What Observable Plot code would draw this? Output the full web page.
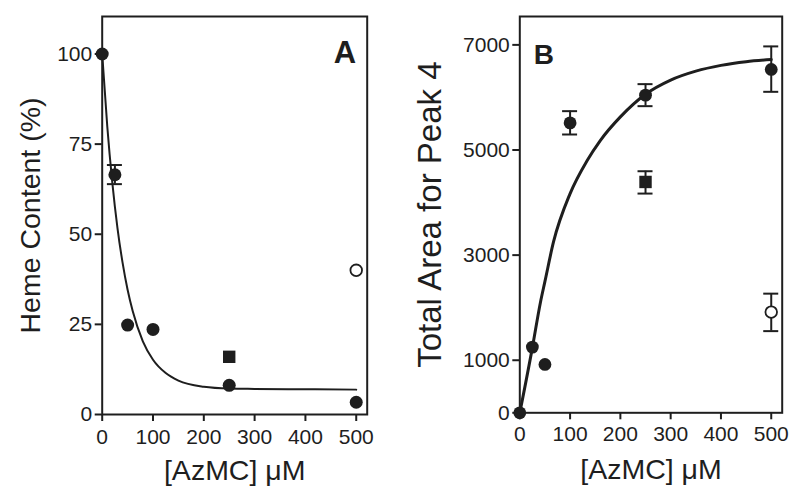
<!DOCTYPE html>
<html>
<head>
<meta charset="utf-8">
<script src="https://cdn.jsdelivr.net/npm/d3@7"></script>
<script src="https://cdn.jsdelivr.net/npm/@observablehq/plot@0.6"></script>
<style>
  html, body { margin: 0; padding: 0; background: white; }
  #chart { display: flex; width: 800px; height: 498px; background: white; }
  #chart svg { display: block; }
  #chart svg g[aria-label="x-axis tick label"],
  #chart svg g[aria-label="y-axis tick label"] { font-size: 21px; }
</style>
</head>
<body>
<div id="chart"></div>
<script>
// ---------- shared ----------
const xTicks = [0, 100, 200, 300, 400, 500];
const xTitle = "[AzMC] \u03BCM";

// ---------- Panel A: Heme content ----------
const hemeTicks = [0, 25, 50, 75, 100];
const hemeX = [0, 25, 50, 100, 250, 500];
const hemeY = [100, 66.5, 24.8, 23.6, 8.1, 3.4];
const hemeErrX = [25];
const hemeErrLo = [63.9];
const hemeErrHi = [69.2];
const hemeSquareX = [250];
const hemeSquareY = [16];
const hemeOpenX = [500];
const hemeOpenY = [40];
const hemeFitX = [0, 10, 20, 30, 40, 50, 60, 80, 100, 125, 150, 200, 250, 300, 400, 500];
const hemeFitY = [100, 79.9, 64.2, 51.8, 42.2, 34.6, 28.7, 20.3, 15.2, 11.5, 9.4, 7.7, 7.2, 7.1, 7.0, 6.9];

// ---------- Panel B: Total area for peak 4 ----------
const peakTicks = [0, 1000, 3000, 5000, 7000];
const peakX = [0, 25, 50, 100, 250, 500];
const peakY = [0, 1250, 920, 5516, 6044, 6533];
const peakErrX = [100, 250, 500];
const peakErrLo = [5295, 5834, 6107];
const peakErrHi = [5739, 6253, 6971];
const peakSquareX = [250];
const peakSquareY = [4392];
const peakSquareLo = [4171];
const peakSquareHi = [4596];
const peakOpenX = [500];
const peakOpenY = [1916];
const peakOpenLo = [1554];
const peakOpenHi = [2267];
const peakFitX = [0, 25, 41, 50, 67, 100, 134, 160, 200, 250, 300, 350, 400, 450, 500];
const peakFitY = [0, 1240, 2100, 2500, 3250, 4170, 4800, 5180, 5630, 6060, 6330, 6500, 6610, 6680, 6720];

const zip = (xs, ys) => xs.map((x, i) => ({x, y: ys[i]}));
const zipErr = (xs, lo, hi) => xs.map((x, i) => ({x, lo: lo[i], hi: hi[i]}));
const ink = "#1e1e1e";
const font = "'Liberation Sans', Arial, Helvetica, sans-serif";
const plain = d => String(d);

function panel(o) {
  const innerW = o.width - o.marginLeft - o.marginRight;
  const capHalf = 7.5 * (o.xDomain[1] - o.xDomain[0]) / innerW; // 7.5 px in data units
  const errs = o.errors;
  return Plot.plot({
    width: o.width,
    height: 498,
    marginLeft: o.marginLeft,
    marginRight: o.marginRight,
    marginTop: o.marginTop,
    marginBottom: o.marginBottom,
    x: {domain: o.xDomain},
    y: {domain: o.yDomain},
    style: {fontFamily: font, fontSize: "21px", color: ink, background: "white", overflow: "visible"},
    marks: [
      Plot.axisY(o.yTicks, {tickSize: 7, tickPadding: 3, fontSize: 21, strokeWidth: 2, label: null, tickFormat: plain, fill: ink, stroke: ink}),
      Plot.axisX(xTicks, {tickSize: 7, tickPadding: o.xPad, fontSize: 21, strokeWidth: 2, label: null, tickFormat: plain, fill: ink, stroke: ink}),
      Plot.frame({stroke: ink, strokeWidth: 2}),
      Plot.line(o.fit, {x: "x", y: "y", curve: "monotone-x", stroke: ink, strokeWidth: o.fitWidth}),
      Plot.ruleX(errs, {x: "x", y1: "lo", y2: "hi", stroke: ink, strokeWidth: 2}),
      Plot.ruleY(errs, {y: "lo", x1: d => d.x - capHalf, x2: d => d.x + capHalf, stroke: ink, strokeWidth: 2}),
      Plot.ruleY(errs, {y: "hi", x1: d => d.x - capHalf, x2: d => d.x + capHalf, stroke: ink, strokeWidth: 2}),
      Plot.dot(o.points, {x: "x", y: "y", r: o.r, fill: ink, stroke: "none"}),
      Plot.dot(o.squares, {x: "x", y: "y", r: 7, symbol: "square", fill: ink, stroke: "none"}),
      Plot.dot(o.open, {x: "x", y: "y", r: 5.8, fill: "white", stroke: ink, strokeWidth: 1.8}),
      Plot.text([o.yTitle], {text: d => d, frameAnchor: "left", rotate: -90, dx: o.yTitleDx, textAnchor: "middle", lineAnchor: "middle", fontSize: o.yTitleSize, fill: ink}),
      Plot.text([xTitle], {text: d => d, frameAnchor: "bottom", dy: o.xTitleDy, textAnchor: "middle", lineAnchor: "middle", fontSize: 28.5, fill: ink}),
      Plot.text([o.letter], {text: d => d, frameAnchor: o.letterAnchor, dx: o.letterDx, dy: o.letterDy, textAnchor: o.letterTextAnchor, lineAnchor: "top", fontSize: o.letterSize, fontWeight: "bold", fill: ink})
    ]
  });
}

const chartA = panel({
  width: 400, marginLeft: 101.7, marginRight: 33.3, marginTop: 16, marginBottom: 84,
  xDomain: [0, 521.6], yDomain: [0, 110.4], yTicks: hemeTicks, xPad: 8,
  fit: zip(hemeFitX, hemeFitY), fitWidth: 2,
  errors: zipErr(hemeErrX, hemeErrLo, hemeErrHi),
  points: zip(hemeX, hemeY), r: 6.5,
  squares: zip(hemeSquareX, hemeSquareY),
  open: zip(hemeOpenX, hemeOpenY),
  yTitle: "Heme Content (%)", yTitleDx: -71.7, yTitleSize: 28.5, xTitleDy: 56,
  letter: "A", letterAnchor: "top-right", letterDx: -11, letterDy: 24, letterTextAnchor: "end", letterSize: 31
});

const chartB = panel({
  width: 400, marginLeft: 119.3, marginRight: 18.3, marginTop: 16, marginBottom: 85.7,
  xDomain: [0, 521.8], yDomain: [0, 7540], yTicks: peakTicks, xPad: 6,
  fit: zip(peakFitX, peakFitY), fitWidth: 3,
  errors: [
    ...zipErr(peakErrX, peakErrLo, peakErrHi),
    ...zipErr(peakSquareX, peakSquareLo, peakSquareHi),
    ...zipErr(peakOpenX, peakOpenLo, peakOpenHi)
  ],
  points: zip(peakX, peakY), r: 6.4,
  squares: zip(peakSquareX, peakSquareY),
  open: zip(peakOpenX, peakOpenY),
  yTitle: "Total Area for Peak 4", yTitleDx: -89, yTitleSize: 33, xTitleDy: 57,
  letter: "B", letterAnchor: "top-left", letterDx: 14, letterDy: 28, letterTextAnchor: "start", letterSize: 28
});

const root = document.getElementById("chart");
root.appendChild(chartA);
root.appendChild(chartB);
</script>
</body>
</html>
